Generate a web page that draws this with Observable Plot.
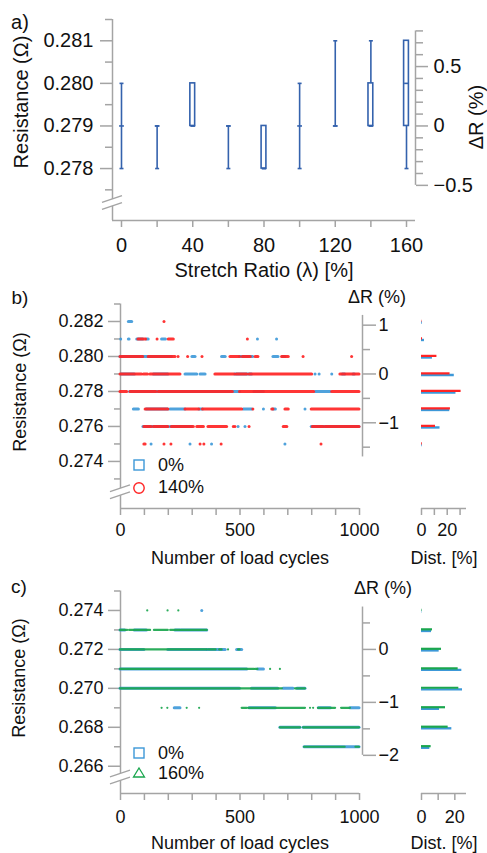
<!DOCTYPE html>
<html><head><meta charset="utf-8">
<script src="https://cdn.jsdelivr.net/npm/d3@7"></script>
<script src="https://cdn.jsdelivr.net/npm/@observablehq/plot@0.6"></script>
<style>
html,body{margin:0;padding:0;background:#fff;}
#root{position:relative;width:487px;height:853px;overflow:hidden;background:#fff;font-family:"Liberation Sans",Arial,Helvetica,sans-serif;color:#111;}
.t{position:absolute;white-space:nowrap;line-height:1;}
</style></head><body><div id="root"></div>
<script>
// ================= DATA =================
// Panel a: box statistics of resistance (Ω) vs stretch ratio (%)
const stretch = [0, 20, 40, 60, 80, 100, 120, 140, 160];
const resMin  = [0.278, 0.278, 0.279, 0.278, 0.278, 0.278, 0.279, 0.279, 0.278];
const resQ1   = [0.279, 0.279, 0.279, 0.279, 0.278, 0.279, 0.279, 0.279, 0.279];
const resMed  = [0.279, 0.279, 0.279, 0.279, 0.278, 0.279, 0.279, 0.279, 0.280];
const resQ3   = [0.279, 0.279, 0.280, 0.279, 0.279, 0.279, 0.279, 0.280, 0.281];
const resMax  = [0.280, 0.279, 0.280, 0.279, 0.279, 0.280, 0.281, 0.281, 0.281];
const aResTicks = [0.278, 0.279, 0.280, 0.281];
const aResMinor = [0.2775, 0.2785, 0.2795, 0.2805, 0.2815];
const aDRTicks = [-0.5, 0, 0.5];
const aDRMinor = [-0.4, -0.3, -0.2, -0.1, 0.1, 0.2, 0.3, 0.4, 0.6, 0.7, 0.8];
const aXLabels = [0, 40, 80, 120, 160];

// Panel b: runs of load cycles at each resistance level [R, firstCycle, lastCycle]
const bRuns0 = [ // 0 %
  [0.282,35,49],
  [0.281,3,3],[0.281,35,38],[0.281,70,95],[0.281,110,118],[0.281,174,190],[0.281,575,575],[0.281,655,655],
  [0.280,0,215],[0.280,301,314],[0.280,425,440],[0.280,500,555],[0.280,640,661],[0.280,680,690],
  [0.279,5,60],[0.279,140,200],[0.279,272,321],[0.279,335,356],[0.279,480,550],[0.279,816,816],[0.279,833,833],[0.279,886,886],[0.279,930,940],[0.279,975,980],
  [0.278,40,500],[0.278,560,600],[0.278,816,880],
  [0.277,56,77],[0.277,110,200],[0.277,209,272],[0.277,330,345],[0.277,516,551],[0.277,600,600],[0.277,640,650],[0.277,774,774],
  [0.276,96,200],[0.276,209,300],[0.276,494,494],[0.276,523,523],[0.276,800,1000],
  [0.275,130,130],[0.275,293,293],[0.275,383,383],[0.275,690,690]
];
const bRuns140 = [ // 140 %
  [0.282,184,184],
  [0.281,75,107],[0.281,155,155],[0.281,202,223],[0.281,533,533],
  [0.280,0,2],[0.280,8,95],[0.280,118,230],[0.280,243,243],[0.280,283,283],[0.280,343,343],[0.280,460,500],[0.280,512,545],[0.280,565,577],[0.280,676,704],[0.280,766,766],[0.280,969,969],
  [0.279,0,90],[0.279,98,115],[0.279,125,251],[0.279,397,478],[0.279,486,530],[0.279,540,802],[0.279,920,1000],
  [0.278,0,28],[0.278,42,150],[0.278,160,470],[0.278,500,810],[0.278,886,1000],
  [0.277,105,200],[0.277,272,330],[0.277,345,509],[0.277,556,556],[0.277,635,640],[0.277,690,704],[0.277,800,1000],
  [0.276,100,130],[0.276,140,200],[0.276,215,307],[0.276,321,349],[0.276,368,446],[0.276,474,474],[0.276,481,481],[0.276,540,540],[0.276,683,698],[0.276,805,850],[0.276,858,1000],
  [0.275,100,105],[0.275,184,184],[0.275,213,213],[0.275,335,335],[0.275,351,351],[0.275,423,423],[0.275,841,841]
];
const bLevels = [0.282, 0.281, 0.280, 0.279, 0.278, 0.277, 0.276, 0.275];
const bDist0   = [0.6, 2.3, 8.5, 25.5, 26.8, 22.0, 14.4, 0.5];
const bDist140 = [0.3, 0.8, 12.0, 22.2, 30.8, 22.5, 10.9, 0.6];
const bResTicks = [0.274, 0.276, 0.278, 0.280, 0.282];
const bResMinor = [0.273, 0.275, 0.277, 0.279, 0.281, 0.283];
const bDRTicks = [-1, 0, 1];
const bDRMinor = [-1.5, -0.5, 0.5];

// Panel c
const cRuns0 = [ // 0 %
  [0.274,342,342],
  [0.273,0,20],[0.273,60,110],[0.273,230,363],
  [0.272,0,100],[0.272,200,363],[0.272,365,440],[0.272,488,509],
  [0.271,0,530],[0.271,575,600],
  [0.270,0,500],[0.270,550,660],[0.270,682,724],[0.270,740,774],
  [0.269,227,251],[0.269,540,650],[0.269,830,880],[0.269,962,1000],
  [0.268,669,753],[0.268,766,1000],
  [0.267,770,1000]
];
const cRuns160 = [ // 160 %
  [0.274,114,114],[0.274,199,199],[0.274,244,244],
  [0.273,0,30],[0.273,38,126],[0.273,142,200],[0.273,210,250],[0.273,255,363],
  [0.272,0,363],[0.272,370,400],[0.272,415,425],[0.272,452,452],[0.272,494,500],
  [0.271,0,560],[0.271,565,575],[0.271,628,628],[0.271,669,669],
  [0.270,0,677],[0.270,732,774],
  [0.269,174,174],[0.269,198,198],[0.269,279,279],[0.269,331,331],[0.269,509,530],[0.269,536,774],[0.269,795,795],[0.269,808,808],[0.269,828,900],[0.269,925,962],
  [0.268,669,753],[0.268,766,1000],
  [0.267,770,940],[0.267,985,1000]
];
const cLevels = [0.274, 0.273, 0.272, 0.271, 0.270, 0.269, 0.268, 0.267];
const cDist0   = [0.2, 6.0, 10.6, 24.2, 24.6, 10.8, 18.2, 5.0];
const cDist160 = [0.3, 6.6, 12.0, 22.0, 22.4, 14.4, 16.0, 5.8];
const cResTicks = [0.266, 0.268, 0.270, 0.272, 0.274];
const cResMinor = [0.267, 0.269, 0.271, 0.273, 0.275];
const cDRTicks = [-2, -1, 0];
const cDRMinor = [-1.5, -0.5, 0.5];

const cycleTicks = [0,100,200,300,400,500,600,700,800,900,1000];
const cycleLabels = [0, 500, 1000];

// ================= STYLE / LAYOUT =================
const FONT = '"Liberation Sans", Arial, Helvetica, sans-serif';
const AX = "#a4a4a4";
const BLUE_A = "#3462ad";
const BLUE = "#3c98d8";
const RED = "#ff2424";
const GREEN = "#1aa64e";
const root = document.getElementById("root");

const toR = ref => d => ref * (1 + d / 100);
const drFmt = ref => r => d3.format("")(Math.round((r / ref - 1) * 1000) / 10);
const hline = {draw(ctx, size) { const r = Math.sqrt(size / Math.PI); ctx.moveTo(-r, 0); ctx.lineTo(r, 0); }};

function mount(el, left, top) {
  const d = document.createElement("div");
  d.style.position = "absolute"; d.style.left = left + "px"; d.style.top = top + "px";
  d.appendChild(el); root.appendChild(d); return el;
}
function text(str, x, y, size, anchor = "middle", rotate = false) {
  const d = document.createElement("div");
  d.className = "t"; d.textContent = str; d.style.fontSize = size + "px";
  d.style.left = x + "px"; d.style.top = y + "px";
  const tx = anchor === "start" ? "0" : "-50%";
  d.style.transform = `translate(${tx},-50%)` + (rotate ? " rotate(-90deg)" : "");
  root.appendChild(d);
}
function addBreak(svg, xPix, value) {
  const s = svg.scale("y");
  const f = s.apply ? v => s.apply(v) : d3.scaleLinear(s.domain, s.range);
  const y = f(value), h = 7, w = 10, k = 3.4;
  const g = d3.select(svg).append("g");
  g.append("path").attr("d", `M${xPix-w},${y-h/2+k}L${xPix+w},${y-h/2-k}L${xPix+w},${y+h/2-k}L${xPix-w},${y+h/2+k}Z`).attr("fill", "white");
  for (const o of [-h/2, h/2]) g.append("line").attr("x1", xPix-w).attr("y1", y+o+k).attr("x2", xPix+w).attr("y2", y+o-k).attr("stroke", AX).attr("stroke-width", 1.4);
}
const baseStyle = size => ({background: "none", fontFamily: FONT, fontSize: size + "px", color: "#111", overflow: "visible"});
const tk = {stroke: AX, strokeWidth: 1.5, label: null};

// ================= PANEL A =================
const aX = [-5.05, 165.05];
const aY = [0.27678, 0.2815];
const refA = 0.279;
const boxes = stretch.map((s, i) => ({s, min: resMin[i], q1: resQ1[i], med: resMed[i], q3: resQ3[i], max: resMax[i]}));
const plotA = Plot.plot({
  width: 487, height: 262, marginLeft: 112, marginRight: 72, marginTop: 19, marginBottom: 42,
  x: {domain: aX}, y: {domain: aY},
  style: baseStyle(20),
  marks: [
    Plot.ruleX([aX[0]], {stroke: AX, strokeWidth: 1.5}),
    Plot.ruleY([aY[0]], {stroke: AX, strokeWidth: 1.5}),
    Plot.ruleX([aX[1]], {y1: toR(refA)(-0.5), y2: toR(refA)(0.8), stroke: AX, strokeWidth: 1.5}),
    Plot.axisY(aResTicks, {...tk, anchor: "left", tickSize: 12, tickPadding: 7, tickFormat: d3.format(".3f")}),
    Plot.axisY(aResMinor, {...tk, anchor: "left", tickSize: 7, tickFormat: () => ""}),
    Plot.axisY(aDRTicks.map(toR(refA)), {...tk, anchor: "right", tickSize: 12, tickPadding: 6, tickFormat: drFmt(refA)}),
    Plot.axisY(aDRMinor.map(toR(refA)), {...tk, anchor: "right", tickSize: 7, tickFormat: () => ""}),
    Plot.axisX(stretch, {...tk, anchor: "bottom", tickSize: 7, tickPadding: 10, tickFormat: d => aXLabels.includes(d) ? String(d) : ""}),
    Plot.ruleX(boxes, {x: "s", y1: "min", y2: "max", stroke: BLUE_A, strokeWidth: 1.6}),
    Plot.dot(boxes, {x: "s", y: "min", symbol: hline, r: 2, fill: "none", stroke: BLUE_A, strokeWidth: 1.6}),
    Plot.dot(boxes, {x: "s", y: "max", symbol: hline, r: 2, fill: "none", stroke: BLUE_A, strokeWidth: 1.6}),
    Plot.rect(boxes.filter(d => d.q3 > d.q1), {x1: "s", x2: "s", y1: "q1", y2: "q3", insetLeft: -2.4, insetRight: -2.4, fill: "white", stroke: BLUE_A, strokeWidth: 1.6}),
    Plot.dot(boxes, {x: "s", y: "med", symbol: hline, r: 2.4, fill: "none", stroke: BLUE_A, strokeWidth: 1.6})
  ]
});
mount(plotA, 0, 0);
addBreak(plotA, 112, 0.27719);
text("a)", 20, 22, 20);
text("Resistance (Ω)", 21, 102, 20, "middle", true);
text("ΔR (%)", 476, 117, 20, "middle", true);
text("Stretch Ratio (λ) [%]", 264, 270, 20);

// ================= PANEL B / C builders =================
function cyclePanel(cfg) {
  const X = [0, 1012.5];
  const main = Plot.plot({
    width: 400, height: cfg.height, marginLeft: 120, marginRight: 38, marginTop: cfg.mt, marginBottom: cfg.mb,
    x: {domain: X}, y: {domain: cfg.yDom},
    style: baseStyle(18),
    marks: [
      Plot.ruleX([X[0]], {stroke: AX, strokeWidth: 1.5}),
      Plot.ruleY([cfg.yDom[0]], {x1: 0, x2: 1000, stroke: AX, strokeWidth: 1.5}),
      Plot.ruleX([X[1]], {y1: toR(cfg.ref)(cfg.drExt[0]), y2: toR(cfg.ref)(cfg.drExt[1]), stroke: AX, strokeWidth: 1.5}),
      Plot.axisY(cfg.resTicks, {...tk, anchor: "left", tickSize: 12, tickPadding: 5, tickFormat: d3.format(".3f")}),
      Plot.axisY(cfg.resMinor, {...tk, anchor: "left", tickSize: 6, tickFormat: () => ""}),
      Plot.axisY(cfg.drTicks.map(toR(cfg.ref)), {...tk, anchor: "right", tickSize: 13, tickPadding: 3, tickFormat: drFmt(cfg.ref)}),
      Plot.axisY(cfg.drMinor.map(toR(cfg.ref)), {...tk, anchor: "right", tickSize: 7, tickFormat: () => ""}),
      Plot.axisX(cycleTicks, {...tk, anchor: "bottom", tickSize: 7, tickPadding: cfg.xpad, tickFormat: d => cycleLabels.includes(d) ? String(d) : ""}),
      Plot.ruleY(cfg.runsA, {y: d => d[0], x1: d => d[1], x2: d => d[2], stroke: BLUE, strokeWidth: 3, strokeLinecap: "round", strokeOpacity: 0.9}),
      Plot.ruleY(cfg.runsB, {y: d => d[0], x1: d => d[1], x2: d => d[2], stroke: cfg.colB, strokeWidth: cfg.wB, strokeLinecap: "round", strokeOpacity: 0.92})
    ]
  });
  mount(main, 0, cfg.top);
  addBreak(main, 120, cfg.brk);
  const distA = cfg.levels.map((r, i) => ({r, v: cfg.distA[i]}));
  const distB = cfg.levels.map((r, i) => ({r, v: cfg.distB[i]}));
  const dist = Plot.plot({
    width: 87, height: cfg.height, marginLeft: 21, marginRight: 21, marginTop: cfg.mt, marginBottom: cfg.mb,
    x: {domain: [0, cfg.distMax]}, y: {domain: cfg.yDom, axis: null},
    style: baseStyle(18),
    marks: [
      Plot.ruleY([cfg.yDom[0]], {stroke: AX, strokeWidth: 1.5}),
      Plot.axisX(cfg.distTicks, {...tk, anchor: "bottom", tickSize: 7, tickPadding: cfg.xpad, tickFormat: d => d % 20 === 0 ? String(d) : ""}),
      Plot.ruleY(distA, {y: "r", x1: 0, x2: "v", dy: 1, stroke: BLUE, strokeWidth: 2.4}),
      Plot.ruleY(distB, {y: "r", x1: 0, x2: "v", dy: -0.6, stroke: cfg.colB, strokeWidth: 2.2})
    ]
  });
  mount(dist, 400, cfg.top);
}

cyclePanel({top: 280, height: 262, mt: 23.5, mb: 34, yDom: [0.27131, 0.283], ref: 0.279, drExt: [-1.7, 1.2],
  resTicks: bResTicks, resMinor: bResMinor, drTicks: bDRTicks, drMinor: bDRMinor, xpad: 8,
  runsA: bRuns0, runsB: bRuns140, colB: RED, wB: 3, brk: 0.27224,
  levels: bLevels, distA: bDist0, distB: bDist140, distMax: 35, distTicks: [0, 10, 20, 30]});
cyclePanel({top: 560, height: 293, mt: 30.5, mb: 60, yDom: [0.2646, 0.275], ref: 0.272, drExt: [-2, 0.8],
  resTicks: cResTicks, resMinor: cResMinor, drTicks: cDRTicks, drMinor: cDRMinor, xpad: 10,
  runsA: cRuns0, runsB: cRuns160, colB: GREEN, wB: 2.2, brk: 0.26542,
  levels: cLevels, distA: cDist0, distB: cDist160, distMax: 27, distTicks: [0, 10, 20]});

// Panel b texts
text("b)", 20, 297, 19);
text("Resistance (Ω)", 20, 392, 18, "middle", true);
text("ΔR (%)", 377, 297, 18);
text("Number of load cycles", 240, 558, 18);
text("Dist. [%]", 444, 558, 18);
text("0%", 158, 465, 18, "start");
text("140%", 158, 487, 18, "start");
// Panel c texts
text("c)", 19, 586, 19);
text("Resistance (Ω)", 19, 678, 18, "middle", true);
text("ΔR (%)", 383, 588, 18);
text("Number of load cycles", 240, 843, 18);
text("Dist. [%]", 444, 843, 18);
text("0%", 158, 753, 18, "start");
text("160%", 158, 773, 18, "start");

// legend symbols
const leg = d3.select(root).append("svg").attr("width", 487).attr("height", 853)
  .style("position", "absolute").style("left", "0px").style("top", "0px").style("pointer-events", "none");
leg.append("rect").attr("x", 134).attr("y", 460).attr("width", 10).attr("height", 10).attr("fill", "none").attr("stroke", BLUE).attr("stroke-width", 1.4);
leg.append("circle").attr("cx", 139).attr("cy", 488).attr("r", 5.2).attr("fill", "none").attr("stroke", RED).attr("stroke-width", 1.4);
leg.append("rect").attr("x", 134).attr("y", 748).attr("width", 10).attr("height", 10).attr("fill", "none").attr("stroke", BLUE).attr("stroke-width", 1.4);
leg.append("path").attr("d", "M139,768L144.5,777L133.5,777Z").attr("fill", "none").attr("stroke", GREEN).attr("stroke-width", 1.3);
</script>
</body></html>
